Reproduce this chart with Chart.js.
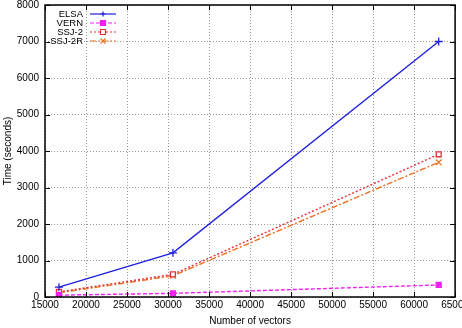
<!DOCTYPE html>
<html>
<head>
<meta charset="utf-8">
<script src="https://cdn.jsdelivr.net/npm/chart.js@4/dist/chart.umd.min.js"></script>
<style>
  html, body { margin: 0; padding: 0; background: #fff; overflow: hidden; }
  #wrap { width: 471px; height: 334px; margin-top: -7px; }
</style>
</head>
<body>
<div id="wrap"><canvas id="chart" width="471" height="334"></canvas></div>
<script>
const vectorCounts = [16700, 30600, 63000];
const elsaTimes = [270, 1210, 7000];
const vernTimes = [50, 100, 330];
const ssj2Times = [140, 620, 3910];
const ssj2rTimes = [115, 580, 3690];
const xTicks = [15000, 20000, 25000, 30000, 35000, 40000, 45000, 50000, 55000, 60000, 65000];
const yTicks = [0, 1000, 2000, 3000, 4000, 5000, 6000, 7000, 8000];

const FONT = "'Liberation Sans', Arial, sans-serif";

function points(values) {
  return vectorCounts.map((x, i) => ({ x, y: values[i] }));
}

const series = [
  { label: "ELSA", data: elsaTimes, color: "#2020e0", dash: [], marker: "cross", fill: false },
  { label: "VERN", data: vernTimes, color: "#f020f0", dash: [4, 2], marker: "rect", fill: true },
  { label: "SSJ-2", data: ssj2Times, color: "#e8303a", dash: [2, 2], marker: "rect", fill: false },
  { label: "SSJ-2R", data: ssj2rTimes, color: "#f07020", dash: [6, 2, 2, 2], marker: "crossRot", fill: false }
];

// gnuplot style frame: black border, inward ticks, legend top-left
const framePlugin = {
  id: "frame",
  afterDatasetsDraw(chart) {
    const { ctx, chartArea: a, scales } = chart;
    ctx.save();
    ctx.strokeStyle = "#000";
    ctx.lineWidth = 1;
    ctx.setLineDash([]);
    ctx.beginPath();
    xTicks.forEach((t) => {
      const px = Math.round(scales.x.getPixelForValue(t)) + 0.5;
      ctx.moveTo(px, a.bottom); ctx.lineTo(px, a.bottom - 5);
      ctx.moveTo(px, a.top); ctx.lineTo(px, a.top + 5);
    });
    yTicks.forEach((t) => {
      const py = Math.round(scales.y.getPixelForValue(t)) + 0.5;
      ctx.moveTo(a.left, py); ctx.lineTo(a.left + 5, py);
      ctx.moveTo(a.right, py); ctx.lineTo(a.right - 5, py);
    });
    ctx.stroke();
    ctx.lineWidth = 1.5;
    ctx.strokeRect(a.left, a.top, a.right - a.left, a.bottom - a.top);

    // legend
    ctx.font = "9.5px " + FONT;
    ctx.textAlign = "right";
    ctx.textBaseline = "middle";
    series.forEach((s, i) => {
      const y = a.top + 9 + i * 9;
      ctx.fillStyle = "#000";
      ctx.fillText(s.label, 83, y);
      ctx.strokeStyle = s.color;
      ctx.lineWidth = 1.2;
      ctx.setLineDash(s.dash);
      ctx.beginPath();
      ctx.moveTo(90, y); ctx.lineTo(116, y);
      ctx.stroke();
      ctx.setLineDash([]);
      ctx.fillStyle = s.fill ? s.color : "#fff";
      const r = 2.5;
      if (s.marker === "rect") {
        ctx.beginPath();
        ctx.rect(103 - r, y - r, r * 2, r * 2);
        ctx.fill(); ctx.stroke();
      } else if (s.marker === "cross") {
        ctx.beginPath();
        ctx.moveTo(103 - r, y); ctx.lineTo(103 + r, y);
        ctx.moveTo(103, y - r); ctx.lineTo(103, y + r);
        ctx.stroke();
      } else {
        ctx.beginPath();
        ctx.moveTo(103 - r, y - r); ctx.lineTo(103 + r, y + r);
        ctx.moveTo(103 + r, y - r); ctx.lineTo(103 - r, y + r);
        ctx.stroke();
      }
    });
    ctx.restore();
  }
};

new Chart(document.getElementById("chart"), {
  type: "scatter",
  data: {
    datasets: series.map((s) => ({
      label: s.label,
      data: points(s.data),
      showLine: true,
      borderColor: s.color,
      backgroundColor: s.fill ? s.color : "#fff",
      borderWidth: 1.4,
      borderDash: s.dash,
      pointStyle: s.marker,
      pointRadius: s.marker === "rect" ? 3.5 : 4,
      pointBorderWidth: 1.3,
      pointBorderColor: s.color,
      tension: 0
    }))
  },
  options: {
    responsive: false,
    animation: false,
    layout: { padding: 0 },
    plugins: { legend: { display: false }, tooltip: { enabled: false } },
    scales: {
      x: {
        type: "linear",
        min: 15000,
        max: 65000,
        afterBuildTicks: (axis) => { axis.ticks = xTicks.map((v) => ({ value: v })); },
        afterFit: (axis) => { axis.height = 30; },
        grid: { color: "#999", drawTicks: false },
        border: { display: false, dash: [1, 2] },
        ticks: { font: { family: FONT, size: 10 }, color: "#000", padding: 2, maxRotation: 0, autoSkip: false, callback: (v) => String(v) },
        title: { display: true, text: "Number of vectors", font: { family: FONT, size: 10 }, color: "#000", padding: { top: 0, bottom: 0 } }
      },
      y: {
        type: "linear",
        min: 0,
        max: 8000,
        afterBuildTicks: (axis) => { axis.ticks = yTicks.map((v) => ({ value: v })); },
        afterFit: (axis) => { axis.width = 45; },
        grid: { color: "#999", drawTicks: false },
        border: { display: false, dash: [1, 2] },
        ticks: { font: { family: FONT, size: 10 }, color: "#000", padding: 6, autoSkip: false, callback: (v) => String(v) },
        title: { display: true, text: "Time (seconds)", font: { family: FONT, size: 10 }, color: "#000", padding: { top: 2, bottom: 0 } }
      }
    }
  },
  plugins: [framePlugin]
});
</script>
</body>
</html>
